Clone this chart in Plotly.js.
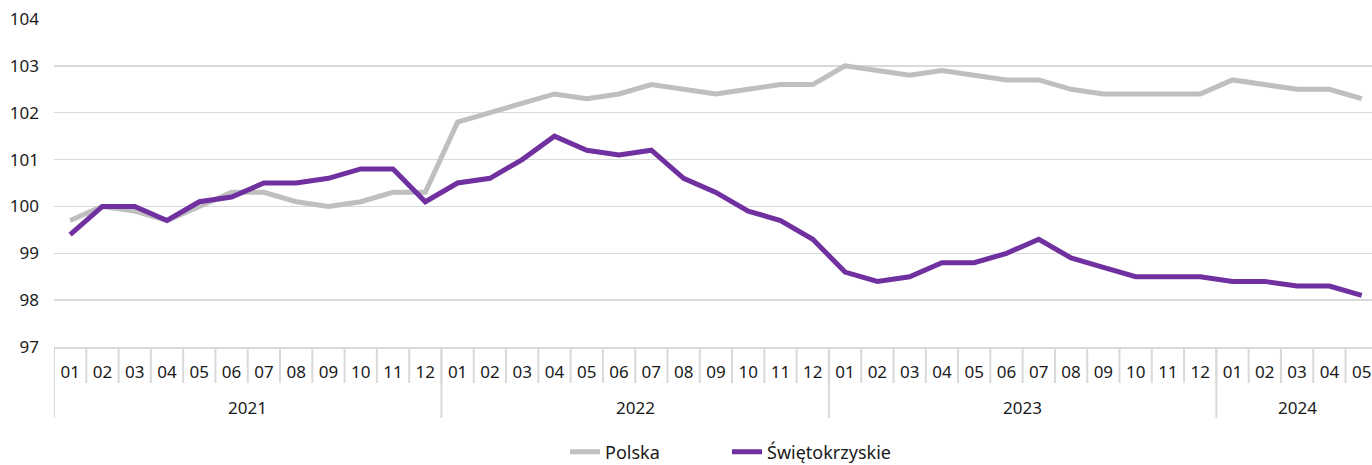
<!DOCTYPE html>
<html>
<head>
<meta charset="utf-8">
<script src="https://cdn.plot.ly/plotly-3.0.1.min.js"></script>
<style>html,body{margin:0;padding:0;background:#fff;}#chart{width:1372px;height:465px;}</style>
</head>
<body>
<div id="chart"></div>
<script>
const years = ["2021","2022","2023","2024"];
const monthsPerYear = [12, 12, 12, 5];
const monthLabels = ["01","02","03","04","05","06","07","08","09","10","11","12"];

const polska = [
  99.7, 100.0, 99.9, 99.7, 100.0, 100.3, 100.3, 100.1, 100.0, 100.1, 100.3, 100.3,
  101.8, 102.0, 102.2, 102.4, 102.3, 102.4, 102.6, 102.5, 102.4, 102.5, 102.6, 102.6,
  103.0, 102.9, 102.8, 102.9, 102.8, 102.7, 102.7, 102.5, 102.4, 102.4, 102.4, 102.4,
  102.7, 102.6, 102.5, 102.5, 102.3
];
const swietokrzyskie = [
  99.4, 100.0, 100.0, 99.7, 100.1, 100.2, 100.5, 100.5, 100.6, 100.8, 100.8, 100.1,
  100.5, 100.6, 101.0, 101.5, 101.2, 101.1, 101.2, 100.6, 100.3, 99.9, 99.7, 99.3,
  98.6, 98.4, 98.5, 98.8, 98.8, 99.0, 99.3, 98.9, 98.7, 98.5, 98.5, 98.5,
  98.4, 98.4, 98.3, 98.3, 98.1
];
const seriesNames = ["Polska", "Świętokrzyskie"];

// build categories
const cats = [], catText = [];
years.forEach((y, yi) => {
  for (let m = 0; m < monthsPerYear[yi]; m++) {
    cats.push(y + "-" + monthLabels[m]);
    catText.push(monthLabels[m]);
  }
});

const font = "Noto Sans, sans-serif";
const divColor = "#d9d9d9";
const txtColor = "#1a1a1a";

const shapes = [];
const annotations = [];
// month dividers
for (let i = 0; i < cats.length; i++) {
  shapes.push({type: "line", xref: "x", yref: "paper", ysizemode: "pixel", yanchor: 0,
    x0: i - 0.5, x1: i - 0.5, y0: 0, y1: -36, line: {color: divColor, width: 2}});
}
// year dividers and labels
let start = 0;
years.forEach((y, yi) => {
  const n = monthsPerYear[yi];
  shapes.push({type: "line", xref: "x", yref: "paper", ysizemode: "pixel", yanchor: 0,
    x0: start - 0.5, x1: start - 0.5, y0: 0, y1: -71, line: {color: divColor, width: 2}});
  annotations.push({xref: "x", yref: "paper", x: start + (n - 1) / 2, y: 0, yshift: -60,
    xanchor: "center", yanchor: "middle", showarrow: false, text: y,
    font: {family: font, size: 17, color: txtColor}});
  start += n;
});

const data = [
  {x: cats, y: polska, name: seriesNames[0], type: "scatter", mode: "lines",
   legendwidth: 117, line: {color: "#bfbfbf", width: 5}},
  {x: cats, y: swietokrzyskie, name: seriesNames[1], type: "scatter", mode: "lines",
   legendwidth: 135, line: {color: "#7030a0", width: 5}}
];

const layout = {
  width: 1372, height: 465,
  margin: {l: 54, r: 0, t: 19, b: 118, autoexpand: false},
  paper_bgcolor: "#fff", plot_bgcolor: "#fff",
  font: {family: font, size: 17, color: txtColor},
  showlegend: true,
  legend: {orientation: "h", xref: "container", x: 565 / 1372, xanchor: "left",
    y: -0.3201, yanchor: "middle",
    font: {family: font, size: 18, color: txtColor}, traceorder: "normal"},
  xaxis: {type: "category", range: [-0.5, 40.32], tickmode: "array", tickvals: cats, ticktext: catText,
    ticks: "", showgrid: false, showline: true, linecolor: divColor, linewidth: 2,
    zeroline: false, ticklabelstandoff: 9, tickangle: 0,
    tickfont: {family: font, size: 17, color: txtColor}},
  yaxis: {range: [97, 104], dtick: 1, tick0: 97, showgrid: true, gridcolor: divColor, gridwidth: 1.5,
    zeroline: false, showline: false, ticks: "", ticklabelstandoff: 14,
    tickfont: {family: font, size: 17, color: txtColor}},
  shapes: shapes,
  annotations: annotations
};

Plotly.newPlot("chart", data, layout, {displayModeBar: false, staticPlot: true});
</script>
</body>
</html>
